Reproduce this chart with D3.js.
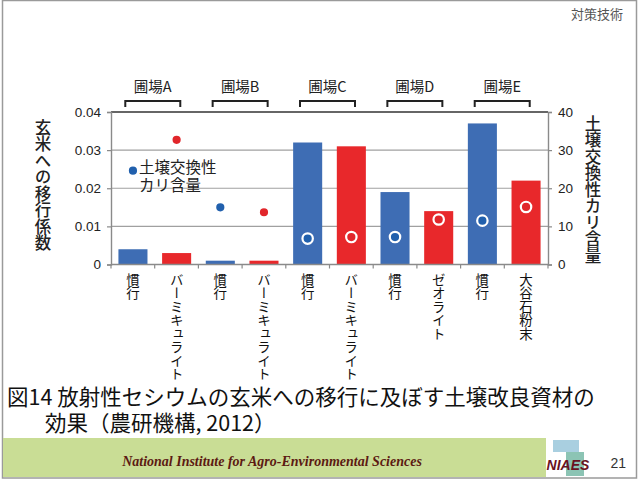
<!DOCTYPE html>
<html>
<head>
<meta charset="utf-8">
<script src="https://cdn.jsdelivr.net/npm/d3@7/dist/d3.min.js"></script>
<style>
  body { margin: 0; background: #fff; }
  text { font-family: "Noto Sans CJK JP", "Noto Sans", sans-serif; }
</style>
</head>
<body>
<svg id="chart" width="640" height="481"></svg>
<script>
// data
var categories = ["慣行", "バーミキュライト", "慣行", "バーミキュライト", "慣行", "バーミキュライト", "慣行", "ゼオライト", "慣行", "大谷石粉末"];
var fields = ["圃場A", "圃場B", "圃場C", "圃場D", "圃場E"];
var transfer = [0.004, 0.003, 0.001, 0.001, 0.032, 0.031, 0.019, 0.014, 0.037, 0.022];
var potassium = [24.6, 32.7, 15.0, 13.7, 6.8, 7.2, 7.2, 11.8, 11.5, 15.1];
var leftTicks = [0, 0.01, 0.02, 0.03, 0.04];
var rightTicks = [0, 10, 20, 30, 40];

var blue = "#3e6db4", red = "#e8282b";
var dotBlue = "#2160ad", dotRed = "#e1262b";

var svg = d3.select("#chart");

// slide frame
svg.append("rect").attr("x", 2.5).attr("y", 0.5).attr("width", 634).attr("height", 477.5)
    .attr("fill", "none").attr("stroke", "#9a9a9a").attr("stroke-width", 1.5);
svg.append("text").attr("x", 623).attr("y", 19).attr("text-anchor", "end")
    .attr("font-size", 13).attr("fill", "#555").text("対策技術");

var x = d3.scaleBand().domain(d3.range(categories.length)).range([111, 548]).paddingInner(0.335).paddingOuter(0.17);
var yL = d3.scaleLinear().domain([0, 0.04]).range([264.5, 112]);
var yR = d3.scaleLinear().domain([0, 40]).range([264.5, 112]);

// grid
svg.append("g").selectAll("line").data(leftTicks.slice(1, 4)).join("line")
    .attr("x1", 111).attr("x2", 548).attr("y1", yL).attr("y2", yL)
    .attr("stroke", "#a0a0a0").attr("stroke-width", 1.2);
svg.append("line").attr("x1", 111).attr("x2", 548).attr("y1", yL(0.04)).attr("y2", yL(0.04))
    .attr("stroke", "#333").attr("stroke-width", 1.6);

// bars
svg.append("g").selectAll("rect").data(transfer).join("rect")
    .attr("x", function (d, i) { return x(i); })
    .attr("y", function (d) { return yL(d); })
    .attr("width", x.bandwidth())
    .attr("height", function (d) { return yL(0) - yL(d); })
    .attr("fill", function (d, i) { return i % 2 ? red : blue; });

// axes
var axL = svg.append("g").attr("transform", "translate(111,0)")
    .call(d3.axisLeft(yL).tickValues(leftTicks).tickSize(4).tickPadding(6).tickFormat(function (d) { return d === 0 ? "0" : d3.format(".2f")(d); }));
var axR = svg.append("g").attr("transform", "translate(548,0)")
    .call(d3.axisRight(yR).tickValues(rightTicks).tickSize(4).tickPadding(6));
[axL, axR].forEach(function (a) {
    a.select(".domain").attr("stroke", "#8a8a8a").attr("stroke-width", 1.4);
    a.selectAll(".tick line").attr("stroke", "#8a8a8a").attr("stroke-width", 1.2);
    a.selectAll(".tick text").attr("font-size", 13.5).attr("fill", "#222")
        .style("font-family", "'Liberation Sans', Arial, sans-serif");
});

// baseline with ticks between bands
svg.append("line").attr("x1", 111).attr("x2", 548).attr("y1", yL(0)).attr("y2", yL(0))
    .attr("stroke", "#8a8a8a").attr("stroke-width", 1.4);
svg.append("g").selectAll("line").data(d3.range(categories.length + 1)).join("line")
    .attr("x1", function (i) { return 111 + (548 - 111) * i / categories.length; })
    .attr("x2", function (i) { return 111 + (548 - 111) * i / categories.length; })
    .attr("y1", yL(0)).attr("y2", yL(0) + 4)
    .attr("stroke", "#8a8a8a").attr("stroke-width", 1.2);

// potassium dots
svg.append("g").selectAll("circle").data(potassium).join("circle")
    .attr("cx", function (d, i) { return x(i) + x.bandwidth() / 2; })
    .attr("cy", function (d) { return yR(d); })
    .attr("r", 5.2)
    .attr("fill", function (d, i) { return i % 2 ? dotRed : dotBlue; })
    .attr("stroke", "#fff").attr("stroke-width", 2.2);

// legend beside first dot
var leg = svg.append("text").attr("x", 139).attr("y", 173).attr("font-size", 15.5).attr("fill", "#222");
leg.append("tspan").attr("x", 139).text("土壌交換性");
leg.append("tspan").attr("x", 139).attr("dy", 18).text("カリ含量");

// category labels (vertical)
svg.append("g").selectAll("text").data(categories).join("text")
    .attr("x", function (d, i) { return x(i) + x.bandwidth() / 2; })
    .attr("y", 273)
    .style("writing-mode", "vertical-rl")
    .style("text-orientation", "upright")
    .attr("font-size", 13.5).attr("fill", "#111")
    .text(function (d) { return d; });

// field brackets
var brackets = svg.append("g");
fields.forEach(function (f, k) {
    var mid = (x(2 * k) + x(2 * k + 1) + x.bandwidth()) / 2 - 2;
    var x0 = mid - 27.5, x1 = mid + 27.5;
    brackets.append("path")
        .attr("d", "M" + x0 + ",107V101H" + x1 + "V107")
        .attr("fill", "none").attr("stroke", "#222").attr("stroke-width", 2);
    brackets.append("text").attr("x", mid).attr("y", 92).attr("text-anchor", "middle")
        .attr("font-size", 14.5).attr("fill", "#222").text(f);
});

// axis titles
svg.append("text").attr("x", 43).attr("y", 119)
    .style("writing-mode", "vertical-rl").style("text-orientation", "upright")
    .attr("font-size", 16.5).attr("font-weight", 500).attr("fill", "#222").text("玄米への移行係数");
svg.append("text").attr("x", 593).attr("y", 115)
    .style("writing-mode", "vertical-rl").style("text-orientation", "upright")
    .attr("font-size", 16.5).attr("font-weight", 500).attr("fill", "#222").text("土壌交換性カリ含量");

// caption
var cap = svg.append("text").attr("y", 405).attr("font-size", 21.5).attr("fill", "#111");
cap.append("tspan").attr("x", 7).text("図14  放射性セシウムの玄米への移行に及ぼす土壌改良資材の");
cap.append("tspan").attr("x", 45).attr("dy", 26).text("効果（農研機構, 2012）");

// footer
svg.append("rect").attr("x", 3).attr("y", 438).attr("width", 543).attr("height", 39).attr("fill", "#c9dd95");
svg.append("text").attr("x", 272).attr("y", 466).attr("text-anchor", "middle")
    .attr("font-size", 14).attr("font-style", "italic").attr("font-weight", "bold")
    .attr("fill", "#5c1a12").style("font-family", "'Liberation Serif', serif")
    .text("National Institute for Agro-Environmental Sciences");
svg.append("rect").attr("x", 553).attr("y", 440).attr("width", 26).attr("height", 12).attr("fill", "#a9cfe0");
svg.append("rect").attr("x", 566).attr("y", 452).attr("width", 18).attr("height", 24).attr("fill", "#8cc4b4");
svg.append("text").attr("x", 568).attr("y", 470).attr("text-anchor", "middle")
    .attr("font-size", 14).attr("font-style", "italic").attr("font-weight", "bold")
    .attr("fill", "#6a1222").style("font-family", "'Liberation Sans', Arial, sans-serif").text("NIAES");
svg.append("text").attr("x", 626).attr("y", 468).attr("text-anchor", "end")
    .attr("font-size", 14).attr("fill", "#333").style("font-family", "'Liberation Sans', Arial, sans-serif").text("21");
</script>
</body>
</html>
